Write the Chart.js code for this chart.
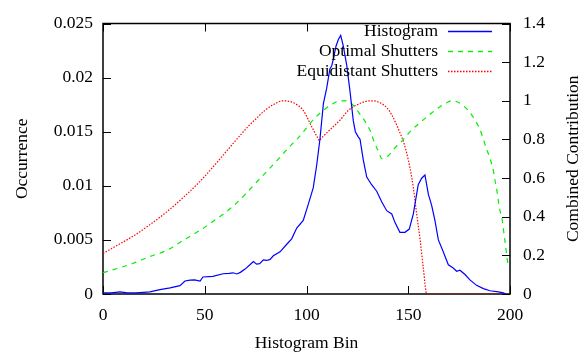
<!DOCTYPE html>
<html>
<head>
<meta charset="utf-8">
<script src="https://cdn.jsdelivr.net/npm/chart.js@4.4.1/dist/chart.umd.min.js"></script>
<style>
  html, body { margin: 0; padding: 0; background: #fff; }
  #wrap { width: 587px; height: 360px; }
</style>
</head>
<body>
<div id="wrap"><canvas id="chart" width="587" height="360"></canvas></div>
<script>
// histogram (left axis)
let histBins = [0, 4, 8.4, 12, 16, 20, 23, 28, 33, 37.8, 40.3, 42.8, 45, 47.7, 49.1, 54, 59, 62, 63.9, 65.8,
  67.5, 69.8, 72.2, 73.9, 75.5, 77, 78.8, 80.5, 82.1, 83.7, 87, 90.3, 92.7, 95.2, 98.4, 100.9, 103.3, 105,
  106.6, 108.3, 109.9, 111.5, 112.4, 113.2, 114.5, 115.6, 116.8, 118.1, 119.8, 121.4, 123, 124, 125.5, 126.3,
  127.9, 129.6, 132, 134.5, 137, 139.4, 141.9, 143.5, 145.9, 148.4, 150.5, 152.5, 154.9, 156.6, 158.2, 159.9,
  161.5, 163.1, 164.8, 167.2, 169.7, 172.1, 173.8, 175.4, 177.9, 180.3, 183.6, 186.9, 190.2, 194.3, 196.7, 198];
let histValues = [0.0001, 0.0001, 0.0002, 0.0001, 0.0001, 0.00015, 0.0002, 0.0004, 0.00057, 0.00077, 0.0012, 0.00128, 0.0013, 0.0012, 0.00157, 0.00163, 0.00187, 0.0019, 0.00196, 0.00185,
  0.002, 0.0023, 0.0027, 0.003, 0.00276, 0.0028, 0.00315, 0.0031, 0.0032, 0.00353, 0.0039, 0.0046, 0.0051, 0.0061, 0.0068, 0.0083, 0.0098, 0.0119,
  0.0143, 0.0176, 0.019, 0.0208, 0.0211, 0.0217, 0.0229, 0.0235, 0.0239, 0.0229, 0.0211, 0.0187, 0.016, 0.015, 0.0145, 0.0143,
  0.0124, 0.0108, 0.0101, 0.0095, 0.0085, 0.0077, 0.0074, 0.0066, 0.0057, 0.0057, 0.006, 0.0074, 0.0101, 0.0107, 0.011, 0.0092,
  0.0082, 0.0068, 0.005, 0.0039, 0.0027, 0.0024, 0.0021, 0.0022, 0.0018, 0.0013, 0.0008, 0.0005, 0.0003, 0.0002, 0.0001, 0];

// optimal shutters (right axis)
let optBins = [0, 7, 14.9, 22, 31.3, 39, 47.7, 56, 64, 69.8, 76, 83.7, 91.9, 95.2, 100.1, 104, 109.1, 113, 116.5, 119,
  122.2, 126.3, 129, 131.5, 133.5, 135.3, 136.2, 137, 137.8, 140.2, 143.5, 146.8, 150.9, 155, 160.7, 165, 168.9, 171.4,
  174, 177, 180.3, 182.8, 185.3, 186.9, 188.5, 190.2, 191.8, 192.6, 193.5, 194.3, 195.1, 195.9, 197.2, 198.4, 199];
let optValues = [0.11, 0.132, 0.159, 0.19, 0.226, 0.275, 0.33, 0.39, 0.455, 0.515, 0.585, 0.67, 0.765, 0.8, 0.86, 0.91, 0.957, 0.985, 1.0, 1.0,
  0.985, 0.93, 0.89, 0.84, 0.78, 0.74, 0.715, 0.7, 0.705, 0.716, 0.757, 0.79, 0.84, 0.88, 0.93, 0.965, 0.99, 1.0,
  0.995, 0.975, 0.94, 0.9, 0.85, 0.8, 0.75, 0.7, 0.64, 0.59, 0.54, 0.48, 0.43, 0.4, 0.3, 0.2, 0.15];

// equidistant shutters (right axis)
let equiBins = [0, 7, 14.9, 23.1, 31.3, 39.5, 47.7, 55.9, 64, 67.3, 71.4, 75.5, 79.5, 83.7, 88.6, 93.5, 98.4, 102.6,
  105.4, 106.3, 107.2, 111.5, 116.5, 120.5, 125, 131.2, 135, 139.4, 142, 144.3, 145.9, 147.6, 149.2, 150.9, 152.5,
  154.1, 155.8, 157.4, 159.1, 200];
let equiValues = [0.21, 0.252, 0.3, 0.359, 0.425, 0.5, 0.583, 0.68, 0.78, 0.82, 0.868, 0.91, 0.95, 0.98, 1.0, 0.99, 0.95, 0.865,
  0.81, 0.794, 0.805, 0.85, 0.9, 0.95, 0.98, 1.0, 0.995, 0.965, 0.925, 0.875, 0.835, 0.79, 0.73, 0.65, 0.55,
  0.417, 0.284, 0.135, 0, 0];

let seriesLabels = ["Histogram", "Optimal Shutters", "Equidistant Shutters"];
let seriesColors = ["#0000ff", "#00ee00", "#ff0000"];
let seriesDash = [[], [5, 5], [1.5, 1.5]];

let xTicks = [0, 50, 100, 150, 200];
let leftTicks = [0, 0.005, 0.01, 0.015, 0.02, 0.025];
let leftTickLabels = ["0", "0.005", "0.01", "0.015", "0.02", "0.025"];
let rightTicks = [0, 0.2, 0.4, 0.6, 0.8, 1, 1.2, 1.4];
let rightTickLabels = ["0", "0.2", "0.4", "0.6", "0.8", "1", "1.2", "1.4"];

let font = { family: "'Liberation Serif', 'Times New Roman', serif", size: 17.5 };
let fontCss = "17.5px 'Liberation Serif', 'Times New Roman', serif";

function points(bins, values) {
    return bins.map((b, i) => ({ x: b, y: values[i] }));
};

// frame and inward ticks, like gnuplot draws them
const framePlugin = {
    id: "frame",
    beforeDatasetsDraw(chart) {
        const { ctx, chartArea: a, scales } = chart;
        ctx.save();
        ctx.strokeStyle = "#000";
        ctx.lineWidth = 1;
        ctx.beginPath();
        xTicks.forEach((v) => {
            const px = Math.round(scales.x.getPixelForValue(v)) + 0.5;
            ctx.moveTo(px, a.bottom); ctx.lineTo(px, a.bottom - 8);
            ctx.moveTo(px, a.top); ctx.lineTo(px, a.top + 8);
        });
        leftTicks.forEach((v) => {
            const py = Math.round(scales.y.getPixelForValue(v)) + 0.5;
            ctx.moveTo(a.left, py); ctx.lineTo(a.left + 8, py);
        });
        rightTicks.forEach((v) => {
            const py = Math.round(scales.y2.getPixelForValue(v)) + 0.5;
            ctx.moveTo(a.right, py); ctx.lineTo(a.right - 8, py);
        });
        ctx.stroke();
        ctx.lineWidth = 1.5;
        ctx.strokeRect(a.left, a.top, a.right - a.left, a.bottom - a.top);
        ctx.restore();
    },
    afterDraw(chart) {
        const { ctx, chartArea: a } = chart;
        ctx.save();
        ctx.font = fontCss;
        // legend: text right aligned, sample on the right
        seriesLabels.forEach((label, i) => {
            const y = 31 + i * 20;
            ctx.fillStyle = "#000";
            ctx.textAlign = "right";
            ctx.textBaseline = "middle";
            ctx.fillText(label, 438, y);
            ctx.strokeStyle = seriesColors[i];
            ctx.lineWidth = 1.4;
            ctx.setLineDash(seriesDash[i]);
            ctx.beginPath();
            ctx.moveTo(448, y + 0.5);
            ctx.lineTo(492, y + 0.5);
            ctx.stroke();
        });
        ctx.setLineDash([]);
        // right axis title, reading bottom to top
        ctx.fillStyle = "#000";
        ctx.translate(573, (a.top + a.bottom) / 2);
        ctx.rotate(-Math.PI / 2);
        ctx.textAlign = "center";
        ctx.textBaseline = "middle";
        ctx.fillText("Combined Contribution", 0, 0);
        ctx.restore();
    }
};

let ctx = document.getElementById("chart").getContext("2d");

new Chart(ctx, {
    type: "line",
    data: {
        datasets: [
            {
                label: seriesLabels[0],
                data: points(histBins, histValues),
                yAxisID: "y",
                borderColor: seriesColors[0],
                borderWidth: 1.2,
                pointRadius: 0,
                tension: 0
            },
            {
                label: seriesLabels[1],
                data: points(optBins, optValues),
                yAxisID: "y2",
                borderColor: seriesColors[1],
                borderWidth: 1.2,
                borderDash: seriesDash[1],
                pointRadius: 0,
                cubicInterpolationMode: "monotone"
            },
            {
                label: seriesLabels[2],
                data: points(equiBins, equiValues),
                yAxisID: "y2",
                borderColor: seriesColors[2],
                borderWidth: 1.2,
                borderDash: seriesDash[2],
                pointRadius: 0,
                cubicInterpolationMode: "monotone"
            }
        ]
    },
    options: {
        responsive: false,
        animation: false,
        devicePixelRatio: 1,
        layout: { padding: { top: 13, left: 0, right: 0, bottom: 0 } },
        plugins: { legend: { display: false }, tooltip: { enabled: false } },
        scales: {
            x: {
                type: "linear",
                min: 0,
                max: 200,
                afterBuildTicks: (s) => { s.ticks = xTicks.map((v) => ({ value: v })); },
                afterFit: (s) => { s.height = 66; },
                ticks: { padding: 11, font, color: "#000", maxRotation: 0, callback: (v, i) => String(xTicks[i]) },
                grid: { display: false, drawTicks: false },
                border: { display: false },
                title: { display: true, text: "Histogram Bin", font, color: "#000", padding: { top: 0, bottom: 6 } }
            },
            y: {
                position: "left",
                min: 0,
                max: 0.025,
                afterBuildTicks: (s) => { s.ticks = leftTicks.map((v) => ({ value: v })); },
                afterFit: (s) => { s.width = 103; },
                ticks: { padding: 10, font, color: "#000", callback: (v, i) => leftTickLabels[i] },
                grid: { display: false, drawTicks: false },
                border: { display: false },
                title: { display: true, text: "Occurrence", font, color: "#000", padding: { top: 12, bottom: 0 } }
            },
            y2: {
                position: "right",
                min: 0,
                max: 1.4,
                afterBuildTicks: (s) => { s.ticks = rightTicks.map((v) => ({ value: v })); },
                afterFit: (s) => { s.width = 77; },
                ticks: { padding: 13, font, color: "#000", callback: (v, i) => rightTickLabels[i] },
                grid: { display: false, drawTicks: false },
                border: { display: false }
            }
        }
    },
    plugins: [framePlugin]
});
</script>
</body>
</html>
